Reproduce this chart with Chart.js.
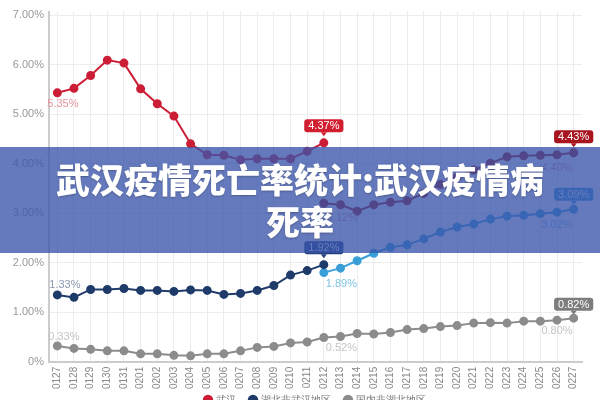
<!DOCTYPE html>
<html>
<head>
<meta charset="utf-8">
<script src="https://cdn.jsdelivr.net/npm/chart.js@4"></script>
<style>
  html, body { margin: 0; padding: 0; background: #fff; overflow: hidden; }
  #wrap { position: relative; width: 600px; height: 400px; overflow: hidden; }
  #chart { position: absolute; left: 0; top: 0; }
  .banner {
    position: absolute; left: 0; top: 147px; width: 600px; height: 106px;
    background: rgba(58, 84, 170, 0.78);
    display: flex; align-items: center; justify-content: center; text-align: center;
    color: #fff; font-family: "Noto Sans CJK SC", sans-serif; font-weight: 900;
    font-size: 34px; line-height: 42px;
    text-shadow: 0 1px 2px rgba(0, 0, 0, 0.25);
  }
</style>
</head>
<body>
<div id="wrap">
  <canvas id="chart" width="600" height="428"></canvas>
  <div class="banner">武汉疫情死亡率统计:武汉疫情病<br>死率</div>
</div>
<script>
const days = [
  "0127", "0128", "0129", "0130", "0131", "0201", "0202", "0203", "0204", "0205", "0206",
  "0207", "0208", "0209", "0210", "0211", "0212", "0213", "0214", "0215", "0216", "0217",
  "0218", "0219", "0220", "0221", "0222", "0223", "0224", "0225", "0226", "0227",
];
const yTicks = [0, 1, 2, 3, 4, 5, 6, 7];

// 武汉, before and after the 0212 change
const wuhanOld = [5.43, 5.52, 5.78, 6.09, 6.03, 5.51, 5.21, 4.96, 4.40, 4.18, 4.17, 4.08, 4.10, 4.10, 4.10, 4.25, 4.42];
const wuhanNew = [3.20, 3.17, 3.04, 3.17, 3.22, 3.25, 3.40, 3.58, 3.72, 3.87, 4.01, 4.14, 4.16, 4.17, 4.18, 4.22];
// 湖北非武汉地区
const hubeiOld = [1.35, 1.30, 1.46, 1.46, 1.48, 1.44, 1.44, 1.42, 1.45, 1.44, 1.36, 1.38, 1.44, 1.54, 1.75, 1.84, 1.96];
const hubeiNew = [1.80, 1.89, 2.04, 2.19, 2.31, 2.36, 2.48, 2.62, 2.72, 2.78, 2.88, 2.94, 2.96, 2.99, 3.02, 3.08];
// 国内非湖北地区
const others = [0.32, 0.27, 0.25, 0.22, 0.22, 0.16, 0.16, 0.13, 0.12, 0.16, 0.16, 0.22, 0.29, 0.31, 0.38, 0.40,
  0.49, 0.51, 0.57, 0.56, 0.59, 0.65, 0.67, 0.71, 0.73, 0.78, 0.79, 0.78, 0.82, 0.82, 0.84, 0.88];

const palette = {
  red: "#cc1d36",
  darkRed: "#a8141e",
  navy: "#1f3b6a",
  sky: "#3a9fd8",
  grey: "#8c8c8c",
  grid: "#ececec",
  axis: "#cccccc",
};

const font = '"Liberation Sans", Arial, sans-serif';

// pad a segment out to the full day list
function before(values) {
  return days.map((d, i) => (i < values.length ? values[i] : null));
}
function after(values) {
  const start = days.length - values.length;
  return days.map((d, i) => (i >= start ? values[i - start] : null));
}

function series(label, data, color) {
  return {
    label,
    data,
    borderColor: color,
    backgroundColor: color,
    pointBackgroundColor: color,
    pointBorderColor: color,
    borderWidth: 2,
    pointRadius: 3.5,
    pointHoverRadius: 3.5,
    tension: 0,
    spanGaps: false,
  };
}

const notes = [
  { ds: 0, i: 0, text: "5.35%", color: "#e4949d", dx: -10, dy: 11, align: "left" },
  { ds: 0, i: 16, text: "4.37%", badge: "#d11f30", dy: -17 },
  { ds: 3, i: 16, text: "3.12%", color: "#e4949d", dx: 3, dy: 15, align: "left" },
  { ds: 3, i: 30, text: "4.40%", color: "#e4949d", dx: 0, dy: 13, align: "center" },
  { ds: 3, i: 31, text: "4.43%", badge: "#a8141e", dy: -16 },
  { ds: 1, i: 0, text: "1.33%", color: "#8a9bb0", dx: -8, dy: -10, align: "left" },
  { ds: 1, i: 16, text: "1.92%", badge: "#23407a", dy: -17 },
  { ds: 4, i: 16, text: "1.89%", color: "#7fc3e4", dx: 2, dy: 11, align: "left" },
  { ds: 4, i: 30, text: "3.02%", color: "#7fc3e4", dx: 0, dy: 13, align: "center" },
  { ds: 4, i: 31, text: "3.09%", badge: "#3a9ad6", dy: -15 },
  { ds: 2, i: 0, text: "0.33%", color: "#c4c4c4", dx: -9, dy: -9, align: "left" },
  { ds: 2, i: 16, text: "0.52%", color: "#c4c4c4", dx: 2, dy: 10, align: "left" },
  { ds: 2, i: 30, text: "0.80%", color: "#c4c4c4", dx: 0, dy: 11, align: "center" },
  { ds: 2, i: 31, text: "0.82%", badge: "#7d7d7d", dy: -14 },
];

const notePlugin = {
  id: "notes",
  afterLayout(chart) {
    // legend sits centred under the plot area, a little higher than default
    const lg = chart.legend;
    lg.left = chart.chartArea.left;
    lg.right = chart.chartArea.right;
    lg.top -= 13;
    lg.bottom -= 13;
  },
  afterDatasetsDraw(chart) {
    const ctx = chart.ctx;
    ctx.save();
    ctx.font = `11px ${font}`;
    ctx.textBaseline = "middle";
    notes.forEach((n) => {
      const pt = chart.getDatasetMeta(n.ds).data[n.i];
      if (!pt) return;
      const x = pt.x + (n.dx || 0);
      const y = pt.y + n.dy;
      if (n.badge) {
        const w = ctx.measureText(n.text).width + 8;
        const h = 13;
        ctx.fillStyle = n.badge;
        ctx.beginPath();
        ctx.roundRect(x - w / 2, y - h / 2, w, h, 3);
        ctx.fill();
        ctx.beginPath();
        ctx.moveTo(x - 3, y + h / 2);
        ctx.lineTo(x + 3, y + h / 2);
        ctx.lineTo(x, y + h / 2 + 4);
        ctx.fill();
        ctx.fillStyle = "#fff";
        ctx.textAlign = "center";
        ctx.fillText(n.text, x, y + 0.5);
      } else {
        ctx.fillStyle = n.color;
        ctx.textAlign = n.align;
        ctx.fillText(n.text, x, y);
      }
    });
    ctx.restore();
  },
};

new Chart(document.getElementById("chart"), {
  type: "line",
  data: {
    labels: days,
    datasets: [
      series("武汉", before(wuhanOld), palette.red),
      series("湖北非武汉地区", before(hubeiOld), palette.navy),
      series("国内非湖北地区", others, palette.grey),
      series("武汉", after(wuhanNew), palette.darkRed),
      series("湖北非武汉地区", after(hubeiNew), palette.sky),
    ],
  },
  options: {
    responsive: false,
    devicePixelRatio: 1,
    animation: false,
    layout: { padding: { top: 0, right: 18, left: 0, bottom: 0 } },
    plugins: {
      tooltip: { enabled: false },
      legend: {
        position: "bottom",
        labels: {
          usePointStyle: true,
          pointStyle: "circle",
          boxWidth: 6,
          boxHeight: 6,
          padding: 14,
          color: "#777",
          font: { family: font, size: 10 },
          filter: (item) => item.datasetIndex < 3,
        },
      },
    },
    scales: {
      x: {
        offset: true,
        grid: { color: palette.grid, offset: false, drawTicks: false },
        border: { color: palette.axis, width: 2 },
        ticks: {
          autoSkip: false,
          minRotation: 90,
          maxRotation: 90,
          padding: 5,
          color: "#888",
          font: { family: font, size: 10 },
        },
      },
      y: {
        min: 0,
        max: 7.07,
        afterBuildTicks: (scale) => {
          scale.ticks = yTicks.map((v) => ({ value: v }));
        },
        afterFit: (scale) => {
          scale.width = 49;
        },
        grid: { color: palette.grid, drawTicks: false },
        border: { color: palette.axis, width: 2 },
        ticks: {
          padding: 5,
          color: "#999",
          font: { family: font, size: 11 },
          callback: (v) => (v === 0 ? "0%" : v.toFixed(2) + "%"),
        },
      },
    },
  },
  plugins: [notePlugin],
});
</script>
</body>
</html>
